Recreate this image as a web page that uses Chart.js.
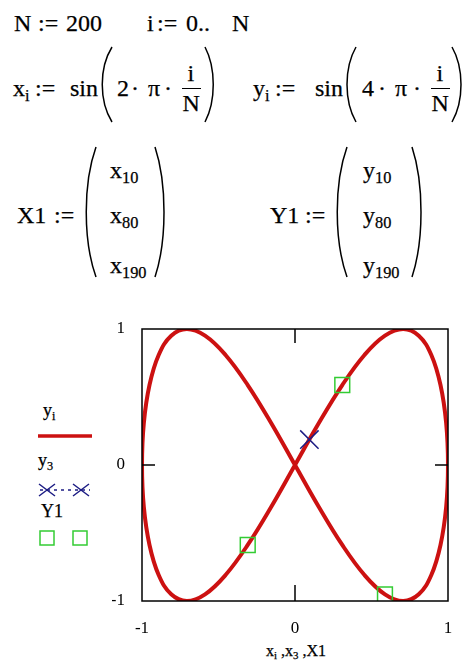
<!DOCTYPE html>
<html>
<head>
<meta charset="utf-8">
<script src="https://cdn.jsdelivr.net/npm/chart.js@4.4.0/dist/chart.umd.min.js"></script>
<style>
  body { margin: 0; background: #fff; width: 467px; height: 665px; position: relative; overflow: hidden;
         font-family: "Liberation Serif", "Times New Roman", serif; color: #000; }
  .t { position: absolute; white-space: nowrap; -webkit-text-stroke: 0.25px #000; }
  .sb { font-size: 0.68em; position: relative; top: 0.32em; }
  .bar { position: absolute; height: 1px; background: #000; }
  svg.par { position: absolute; overflow: visible; }
  #plot { position: absolute; left: 0; top: 290px; }
</style>
</head>
<body>
<div id="sheet"></div>
<canvas id="plot" width="467" height="375"></canvas>
<script>
// curve samples x_i, y_i taken every 5th index (i = 0, 5, ... 200)
const xVals = [0, 0.156, 0.309, 0.454, 0.588, 0.707, 0.809, 0.891, 0.951, 0.988,
  1, 0.988, 0.951, 0.891, 0.809, 0.707, 0.588, 0.454, 0.309, 0.156,
  0, -0.156, -0.309, -0.454, -0.588, -0.707, -0.809, -0.891, -0.951, -0.988,
  -1, -0.988, -0.951, -0.891, -0.809, -0.707, -0.588, -0.454, -0.309, -0.156, 0];
const yVals = [0, 0.309, 0.588, 0.809, 0.951, 1, 0.951, 0.809, 0.588, 0.309,
  0, -0.309, -0.588, -0.809, -0.951, -1, -0.951, -0.809, -0.588, -0.309,
  0, 0.309, 0.588, 0.809, 0.951, 1, 0.951, 0.809, 0.588, 0.309,
  0, -0.309, -0.588, -0.809, -0.951, -1, -0.951, -0.809, -0.588, -0.309, 0];
// single point i = 3
const x3 = [0.094];
const y3 = [0.187];
// picked points i = 10, 80, 190
const X1 = [0.309, 0.588, -0.309];
const Y1 = [0.588, -0.951, -0.588];
const axisMin = -1;
const axisMax = 1;

const red = '#cc1111';
const navy = '#1c1c84';
const green = '#33cc33';

// worksheet text: [html, left, centre y, font size]
const sheet = document.getElementById('sheet');
function put(html, left, cy, size) {
  const el = document.createElement('div');
  el.className = 't';
  el.style.left = left + 'px';
  el.style.top = (cy - size / 2) + 'px';
  el.style.fontSize = size + 'px';
  el.style.lineHeight = size + 'px';
  el.innerHTML = html;
  sheet.appendChild(el);
  return el;
}
function centred(html, cx, cy, size) {
  const el = put(html, 0, cy, size);
  el.style.left = (cx - el.offsetWidth / 2) + 'px';
}
function ending(html, right, cy, size) {
  const el = put(html, 0, cy, size);
  el.style.left = (right - el.offsetWidth) + 'px';
}
function bar(x1, x2, y) {
  const el = document.createElement('div');
  el.className = 'bar';
  el.style.left = x1 + 'px';
  el.style.width = (x2 - x1) + 'px';
  el.style.top = y + 'px';
  sheet.appendChild(el);
}
function paren(x1, x2, y1, y2, open) {
  const w = x2 - x1, h = y2 - y1;
  const ns = 'http://www.w3.org/2000/svg';
  const svg = document.createElementNS(ns, 'svg');
  svg.setAttribute('class', 'par');
  svg.setAttribute('width', w);
  svg.setAttribute('height', h);
  svg.style.left = x1 + 'px';
  svg.style.top = y1 + 'px';
  const p = document.createElementNS(ns, 'path');
  const a = open ? w : 0, b = open ? 1 : w - 1;
  p.setAttribute('d', `M${a},0 C${b},${h * 0.28} ${b},${h * 0.72} ${a},${h}`);
  p.setAttribute('fill', 'none');
  p.setAttribute('stroke', '#000');
  p.setAttribute('stroke-width', '1.5');
  svg.appendChild(p);
  sheet.appendChild(svg);
}

const fs = 24;
put('N', 14, 23, fs); put(':=', 38, 23, fs); put('200', 66, 23, fs);
put('i', 147, 23, fs); put(':=', 157, 23, fs); put('0..', 186, 23, fs); put('N', 232, 23, fs);

put('x<span class="sb">i</span>', 13, 88, fs); put(':=', 35, 88, fs); ending('sin', 98, 88, fs);
paren(98, 112, 47, 122, true);
put('2', 117, 88, fs); centred('·', 135, 88, fs); put('π', 148, 88, fs); centred('·', 168, 88, fs);
centred('i', 191, 73, fs); bar(182, 201, 88); centred('N', 191, 103, fs);
paren(205, 217, 47, 122, false);

put('y<span class="sb">i</span>', 253, 88, fs); put(':=', 275, 88, fs); ending('sin', 343, 88, fs);
paren(343, 356, 47, 122, true);
put('4', 362, 88, fs); centred('·', 382, 88, fs); put('π', 395, 88, fs); centred('·', 417, 88, fs);
centred('i', 440, 73, fs); bar(431, 450, 88); centred('N', 440, 103, fs);
paren(452, 465, 47, 122, false);

put('X1', 17, 215, fs); put(':=', 54, 215, fs);
paren(82, 96, 147, 277, true);
put('x<span class="sb">10</span>', 110, 170, fs);
put('x<span class="sb">80</span>', 110, 215, fs);
put('x<span class="sb">190</span>', 110, 265, fs);
paren(155, 168, 147, 277, false);

put('Y1', 270, 215, fs); put(':=', 305, 215, fs);
paren(333, 347, 147, 277, true);
put('y<span class="sb">10</span>', 363, 170, fs);
put('y<span class="sb">80</span>', 363, 215, fs);
put('y<span class="sb">190</span>', 363, 265, fs);
paren(412, 425, 147, 277, false);

// legend captions and axis caption
put('y<span class="sb">i</span>', 43, 410, 18);
put('y<span class="sb">3</span>', 38, 460, 18);
put('Y1', 41, 511, 18);
centred('x<span class="sb">i</span> ,x<span class="sb">3</span> ,X1', 296, 651, 16);

// frame, inner zero ticks and legend symbols
const framePlugin = {
  id: 'frame',
  afterDatasetsDraw(chart) {
    const { ctx, chartArea: a, scales: { x, y } } = chart;
    ctx.save();
    ctx.strokeStyle = '#000';
    ctx.lineWidth = 1.5;
    ctx.strokeRect(a.left, a.top, a.right - a.left, a.bottom - a.top);
    const x0 = x.getPixelForValue(0), y0 = y.getPixelForValue(0);
    ctx.beginPath();
    ctx.moveTo(x0, a.top); ctx.lineTo(x0, a.top + 14);
    ctx.moveTo(x0, a.bottom); ctx.lineTo(x0, a.bottom - 16);
    ctx.moveTo(a.left, y0); ctx.lineTo(a.left + 13, y0);
    ctx.moveTo(a.right, y0); ctx.lineTo(a.right - 13, y0);
    ctx.stroke();

    // y_i : solid red
    ctx.strokeStyle = red;
    ctx.lineWidth = 3.5;
    ctx.beginPath(); ctx.moveTo(38, 146); ctx.lineTo(92, 146); ctx.stroke();

    // y_3 : dotted blue with crosses
    ctx.strokeStyle = navy;
    ctx.lineWidth = 1.5;
    ctx.setLineDash([3, 4]);
    ctx.beginPath(); ctx.moveTo(40, 200); ctx.lineTo(90, 200); ctx.stroke();
    ctx.setLineDash([]);
    [47, 81].forEach(cx => {
      ctx.beginPath();
      ctx.moveTo(cx - 8, 194); ctx.lineTo(cx + 8, 206);
      ctx.moveTo(cx - 8, 206); ctx.lineTo(cx + 8, 194);
      ctx.stroke();
    });

    // Y1 : green squares
    ctx.strokeStyle = green;
    ctx.lineWidth = 1.5;
    [47, 80].forEach(cx => ctx.strokeRect(cx - 7, 241, 14, 14));
    ctx.restore();
  }
};

const tickFont = { family: '"Liberation Serif", serif', size: 17 };

new Chart(document.getElementById('plot'), {
  type: 'scatter',
  data: {
    datasets: [
      {
        label: 'Y1',
        data: X1.map((v, k) => ({ x: v, y: Y1[k] })),
        pointStyle: 'rect',
        pointRadius: 10.5,
        borderColor: green,
        backgroundColor: 'rgba(0,0,0,0)',
        borderWidth: 1.5,
        clip: 0,
        order: 0
      },
      {
        label: 'y3',
        data: x3.map((v, k) => ({ x: v, y: y3[k] })),
        pointStyle: 'crossRot',
        pointRadius: 13,
        borderColor: navy,
        borderWidth: 1.5,
        clip: 0,
        order: 1
      },
      {
        label: 'yi',
        data: xVals.map((v, k) => ({ x: v, y: yVals[k] })),
        showLine: true,
        pointRadius: 0,
        borderColor: red,
        borderWidth: 4,
        tension: 0.4,
        clip: 0,
        order: 2
      }
    ]
  },
  options: {
    responsive: false,
    animation: false,
    devicePixelRatio: 1,
    layout: { padding: { left: 112, right: 19, top: 39, bottom: 0 } },
    plugins: { legend: { display: false }, tooltip: { enabled: false } },
    scales: {
      x: {
        type: 'linear',
        min: axisMin, max: axisMax,
        grid: { display: false },
        border: { display: false },
        ticks: { stepSize: 1, padding: 9, color: '#000', font: tickFont, maxRotation: 0 },
        afterFit: s => { s.height = 64; }
      },
      y: {
        type: 'linear',
        min: axisMin, max: axisMax,
        grid: { display: false },
        border: { display: false },
        ticks: { stepSize: 1, padding: 9, color: '#000', font: tickFont },
        afterFit: s => { s.width = 30; }
      }
    }
  },
  plugins: [framePlugin]
});
</script>
</body>
</html>
